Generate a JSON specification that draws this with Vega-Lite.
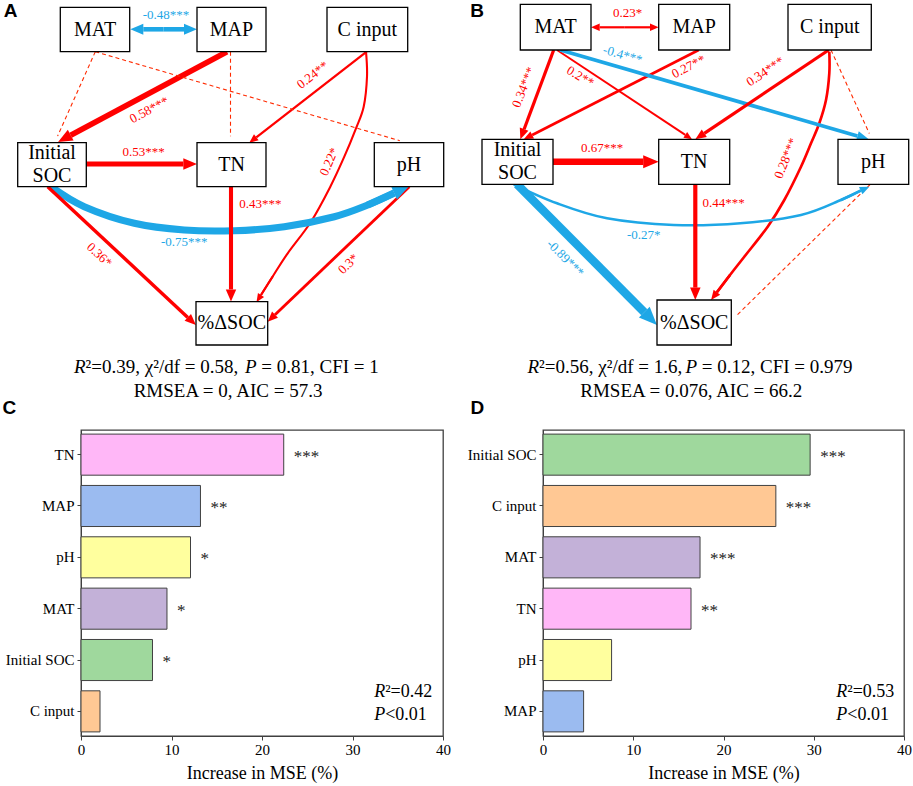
{
"$schema": "https://vega.github.io/schema/vega-lite/v6.json",
"padding": 0,
"background": "white",
"config": {"font": "Liberation Serif", "view": {"stroke": null}},
"spacing": 10,
"datasets": {
"nodes": [
{"panel":"A","label":"MAT","x1":59.3,"x2":128.7,"y1":7.3,"y2":51.7,"tx":94,"ty":29.5},
{"panel":"A","label":"MAP","x1":196,"x2":265,"y1":7.3,"y2":51.7,"tx":230.5,"ty":29.5},
{"panel":"A","label":"C input","x1":326,"x2":406.7,"y1":7.3,"y2":51.7,"tx":366.3,"ty":29.5},
{"panel":"A","label":"Initial\nSOC","x1":16.7,"x2":85.3,"y1":142.7,"y2":186.7,"tx":51,"ty":153.2},
{"panel":"A","label":"TN","x1":196,"x2":265,"y1":142.7,"y2":186.7,"tx":230.5,"ty":164.7},
{"panel":"A","label":"pH","x1":373.3,"x2":442.7,"y1":142.7,"y2":186.7,"tx":408,"ty":164.7},
{"panel":"A","label":"%ΔSOC","x1":195,"x2":266.7,"y1":301.7,"y2":345,"tx":230.8,"ty":323.3},
{"panel":"B","label":"MAT","x1":519.3,"x2":590,"y1":4.3,"y2":50,"tx":554.7,"ty":27.2},
{"panel":"B","label":"MAP","x1":657.7,"x2":728.7,"y1":4.3,"y2":50,"tx":693.2,"ty":27.2},
{"panel":"B","label":"C input","x1":787,"x2":870.3,"y1":4.3,"y2":50,"tx":828.7,"ty":27.2},
{"panel":"B","label":"Initial\nSOC","x1":481,"x2":552,"y1":139.3,"y2":184.3,"tx":516.5,"ty":150.3},
{"panel":"B","label":"TN","x1":657.7,"x2":728.7,"y1":139.3,"y2":184.3,"tx":693.2,"ty":161.8},
{"panel":"B","label":"pH","x1":837,"x2":907.7,"y1":139.3,"y2":184.3,"tx":872.3,"ty":161.8},
{"panel":"B","label":"%ΔSOC","x1":656,"x2":730.3,"y1":300,"y2":345,"tx":693.2,"ty":322.5}
],
"edges": [
{"panel":"A","from":"MAT","to":"MAP","est":-0.48,"x":162.6,"y":29.3,"x2":142.3,"y2":29.3},
{"panel":"A","from":"MAP","to":"MAT","est":-0.48,"x":162.6,"y":29.3,"x2":183,"y2":29.3},
{"panel":"A","from":"MAT","to":"Initial SOC","est":null,"x":94.3,"y":51.7,"x2":56.6,"y2":136.1},
{"panel":"A","from":"MAP","to":"Initial SOC","est":0.58,"x":226,"y":51.7,"x2":69.7,"y2":135.2},
{"panel":"A","from":"MAP","to":"TN","est":null,"x":229.5,"y":51.7,"x2":229.5,"y2":136.2},
{"panel":"A","from":"MAT","to":"pH","est":null,"x":94.3,"y":51.7,"x2":398.8,"y2":140.7},
{"panel":"A","from":"C input","to":"TN","est":0.24,"x":365.7,"y":51.7,"x2":255.3,"y2":137.3},
{"panel":"A","from":"Initial SOC","to":"TN","est":0.53,"x":85.3,"y":164,"x2":182.3,"y2":164},
{"panel":"A","from":"Initial SOC","to":"%ΔSOC","est":0.36,"x":46.7,"y":186.7,"x2":186.8,"y2":317.4},
{"panel":"A","from":"TN","to":"%ΔSOC","est":0.43,"x":230,"y":186.7,"x2":230,"y2":289.4},
{"panel":"A","from":"pH","to":"%ΔSOC","est":0.3,"x":408.3,"y":186.7,"x2":274,"y2":314.7},
{"panel":"A","from":"C input","to":"%ΔSOC","est":0.22,"x":272,"y":276,"x2":260,"y2":295},
{"panel":"A","from":"Initial SOC","to":"pH","est":-0.75,"x":366.7,"y":205,"x2":393.1,"y2":193.1},
{"panel":"B","from":"MAT","to":"MAP","est":0.23,"x":623.8,"y":27.3,"x2":598.7,"y2":27.3},
{"panel":"B","from":"MAP","to":"MAT","est":0.23,"x":623.8,"y":27.3,"x2":649,"y2":27.3},
{"panel":"B","from":"MAT","to":"Initial SOC","est":0.34,"x":552.7,"y":50,"x2":523.1,"y2":129.2},
{"panel":"B","from":"MAT","to":"TN","est":0.2,"x":556,"y":50,"x2":684.3,"y2":134.9},
{"panel":"B","from":"MAP","to":"Initial SOC","est":0.27,"x":697.7,"y":50,"x2":531.2,"y2":135},
{"panel":"B","from":"MAT","to":"pH","est":-0.4,"x":559.3,"y":50,"x2":856.4,"y2":136},
{"panel":"B","from":"C input","to":"pH","est":null,"x":830,"y":50,"x2":868.3,"y2":133.4},
{"panel":"B","from":"C input","to":"TN","est":0.34,"x":827.7,"y":50,"x2":703.3,"y2":133.3},
{"panel":"B","from":"Initial SOC","to":"TN","est":0.67,"x":552,"y":161.7,"x2":642.2,"y2":161.7},
{"panel":"B","from":"Initial SOC","to":"%ΔSOC","est":-0.89,"x":516,"y":184.3,"x2":643.3,"y2":312.2},
{"panel":"B","from":"TN","to":"%ΔSOC","est":0.44,"x":694.3,"y":184.3,"x2":694.3,"y2":287.6},
{"panel":"B","from":"pH","to":"%ΔSOC","est":null,"x":869.3,"y":184.3,"x2":735.6,"y2":315.5},
{"panel":"B","from":"C input","to":"%ΔSOC","est":0.28,"x":729,"y":275,"x2":715.9,"y2":292.3},
{"panel":"B","from":"Initial SOC","to":"pH","est":-0.27,"x":840,"y":200,"x2":859.7,"y2":190.7}
],
"curves": [
{"id":"A1","i":0,"est":0.22,"x":365,"y":51.7},
{"id":"A1","i":1,"est":0.22,"x":366,"y":76.7},
{"id":"A1","i":2,"est":0.22,"x":362.7,"y":106.7},
{"id":"A1","i":3,"est":0.22,"x":355,"y":128.3},
{"id":"A1","i":4,"est":0.22,"x":343.3,"y":156.7},
{"id":"A1","i":5,"est":0.22,"x":329.3,"y":186.7},
{"id":"A1","i":6,"est":0.22,"x":310,"y":221.7},
{"id":"A1","i":7,"est":0.22,"x":286.7,"y":253.3},
{"id":"A1","i":8,"est":0.22,"x":272,"y":276},
{"id":"A1","i":9,"est":0.22,"x":260,"y":295},
{"id":"A2","i":0,"est":-0.75,"x":50,"y":186.7},
{"id":"A2","i":1,"est":-0.75,"x":83.3,"y":206.7},
{"id":"A2","i":2,"est":-0.75,"x":133.3,"y":223.3},
{"id":"A2","i":3,"est":-0.75,"x":183.3,"y":230},
{"id":"A2","i":4,"est":-0.75,"x":233.3,"y":230.7},
{"id":"A2","i":5,"est":-0.75,"x":283.3,"y":226.7},
{"id":"A2","i":6,"est":-0.75,"x":333.3,"y":216.7},
{"id":"A2","i":7,"est":-0.75,"x":366.7,"y":205},
{"id":"A2","i":8,"est":-0.75,"x":393.1,"y":193.1},
{"id":"B1","i":0,"est":0.28,"x":828.3,"y":51.7},
{"id":"B1","i":1,"est":0.28,"x":828.3,"y":73.3},
{"id":"B1","i":2,"est":0.28,"x":825,"y":100},
{"id":"B1","i":3,"est":0.28,"x":818.3,"y":123.3},
{"id":"B1","i":4,"est":0.28,"x":810,"y":143.3},
{"id":"B1","i":5,"est":0.28,"x":800,"y":166.7},
{"id":"B1","i":6,"est":0.28,"x":783.3,"y":200},
{"id":"B1","i":7,"est":0.28,"x":766.7,"y":226.7},
{"id":"B1","i":8,"est":0.28,"x":743.3,"y":256.7},
{"id":"B1","i":9,"est":0.28,"x":729,"y":275},
{"id":"B1","i":10,"est":0.28,"x":715.9,"y":292.3},
{"id":"B2","i":0,"est":-0.27,"x":512.7,"y":184.3},
{"id":"B2","i":1,"est":-0.27,"x":556,"y":203.3},
{"id":"B2","i":2,"est":-0.27,"x":606,"y":218.3},
{"id":"B2","i":3,"est":-0.27,"x":672.7,"y":225},
{"id":"B2","i":4,"est":-0.27,"x":739.3,"y":223.3},
{"id":"B2","i":5,"est":-0.27,"x":800,"y":215},
{"id":"B2","i":6,"est":-0.27,"x":840,"y":200},
{"id":"B2","i":7,"est":-0.27,"x":859.7,"y":190.7}
],
"elabels": [
{"panel":"A","text":"-0.48***","est":-0.48,"x":165,"y":15,"rot":0},
{"panel":"A","text":"0.58***","est":0.58,"x":148.3,"y":110,"rot":-28},
{"panel":"A","text":"0.24**","est":0.24,"x":311.7,"y":75,"rot":-38},
{"panel":"A","text":"0.22*","est":0.22,"x":328.3,"y":161.7,"rot":-66},
{"panel":"A","text":"0.53***","est":0.53,"x":142.7,"y":151.7,"rot":0},
{"panel":"A","text":"0.43***","est":0.43,"x":259.3,"y":204,"rot":0},
{"panel":"A","text":"-0.75***","est":-0.75,"x":183.3,"y":241.7,"rot":0},
{"panel":"A","text":"0.36*","est":0.36,"x":98.3,"y":255,"rot":43},
{"panel":"A","text":"0.3*","est":0.3,"x":347.3,"y":264,"rot":-44},
{"panel":"B","text":"0.23*","est":0.23,"x":626.7,"y":13.3,"rot":0},
{"panel":"B","text":"0.34***","est":0.34,"x":522.7,"y":87.3,"rot":-68},
{"panel":"B","text":"0.2**","est":0.2,"x":579.3,"y":76.7,"rot":30},
{"panel":"B","text":"0.27**","est":0.27,"x":687.7,"y":66.7,"rot":-27},
{"panel":"B","text":"-0.4***","est":-0.4,"x":621.7,"y":55,"rot":16},
{"panel":"B","text":"0.34***","est":0.34,"x":764.3,"y":71.7,"rot":-34},
{"panel":"B","text":"0.28***","est":0.28,"x":785,"y":158.3,"rot":-68},
{"panel":"B","text":"0.67***","est":0.67,"x":601,"y":147.7,"rot":0},
{"panel":"B","text":"-0.27*","est":-0.27,"x":642.7,"y":235,"rot":0},
{"panel":"B","text":"-0.89***","est":-0.89,"x":564.3,"y":258.3,"rot":45},
{"panel":"B","text":"0.44***","est":0.44,"x":722.7,"y":203.3,"rot":0}
],
"stats": [
{"panel":"A","text":"R","italic":true,"x":73,"y":366.7},
{"panel":"A","text":"²=0.39, χ²/df = 0.58,","italic":false,"x":84.6,"y":366.7},
{"panel":"A","text":"P","italic":true,"x":244,"y":366.7},
{"panel":"A","text":"= 0.81, CFI = 1","italic":false,"x":260.3,"y":366.7},
{"panel":"A","text":"RMSEA = 0, AIC = 57.3","italic":false,"x":132.7,"y":391},
{"panel":"B","text":"R","italic":true,"x":526.5,"y":366.7},
{"panel":"B","text":"²=0.56, χ²/df = 1.6,","italic":false,"x":538.1,"y":366.7},
{"panel":"B","text":"P","italic":true,"x":684.5,"y":366.7},
{"panel":"B","text":"= 0.12, CFI = 0.979","italic":false,"x":700.8,"y":366.7},
{"panel":"B","text":"RMSEA = 0.076, AIC = 66.2","italic":false,"x":579.3,"y":391}
],
"letters": [
{"letter":"A","x":9.7,"y":10.7},
{"letter":"B","x":476,"y":10.7},
{"letter":"C","x":8.3,"y":408.3},
{"letter":"D","x":476.3,"y":408}
],
"impC": [
{"var":"TN","mse":22.4,"sig":"***"},
{"var":"MAP","mse":13.2,"sig":"**"},
{"var":"pH","mse":12.1,"sig":"*"},
{"var":"MAT","mse":9.5,"sig":"*"},
{"var":"Initial SOC","mse":7.9,"sig":"*"},
{"var":"C input","mse":2.1,"sig":""}
],
"impD": [
{"var":"Initial SOC","mse":29.6,"sig":"***"},
{"var":"C input","mse":25.8,"sig":"***"},
{"var":"MAT","mse":17.4,"sig":"***"},
{"var":"TN","mse":16.4,"sig":"**"},
{"var":"pH","mse":7.6,"sig":""},
{"var":"MAP","mse":4.5,"sig":""}
]
},
"vconcat": [
{
"width": 833, "height": 418,
"layer": [
{"data": {"name": "curves"},
 "mark": {"type": "line", "interpolate": "cardinal", "strokeCap": "butt"},
 "encoding": {
  "x": {"field": "x", "type": "quantitative", "scale": {"domain": [80, 913], "nice": false, "zero": false}, "axis": null},
  "y": {"field": "y", "type": "quantitative", "scale": {"domain": [0, 418], "nice": false, "zero": false, "reverse": true}, "axis": null},
  "detail": {"field": "id"},
  "order": {"field": "i", "type": "quantitative"},
  "strokeWidth": {"field": "est", "type": "quantitative", "scale": {"domain": [-1, 0, 1], "range": [9.5, 0, 9.5]}, "legend": null},
  "color": {"condition": {"test": "datum.est < 0", "value": "#1ea7e6"}, "value": "#ff0000"}
 }},
{"data": {"name": "edges"},
 "transform": [{"filter": "datum.est != null"}],
 "mark": {"type": "rule"},
 "encoding": {
  "x": {"field": "x", "type": "quantitative"},
  "y": {"field": "y", "type": "quantitative"},
  "x2": {"field": "x2"},
  "y2": {"field": "y2"},
  "strokeWidth": {"field": "est", "type": "quantitative", "legend": null},
  "color": {"condition": {"test": "datum.est < 0", "value": "#1ea7e6"}, "value": "#ff0000"}
 }},
{"data": {"name": "edges"},
 "transform": [{"filter": "datum.est == null"}],
 "mark": {"type": "rule", "strokeDash": [4, 3], "strokeWidth": 1.1, "color": "#ff2a00"},
 "encoding": {
  "x": {"field": "x", "type": "quantitative"},
  "y": {"field": "y", "type": "quantitative"},
  "x2": {"field": "x2"},
  "y2": {"field": "y2"}
 }},
{"data": {"name": "edges"},
 "transform": [{"calculate": "atan2(datum.x2 - datum.x, datum.y - datum.y2) * 180 / PI", "as": "ang"}],
 "mark": {"type": "point", "shape": "M0,-2L-0.85,0L0.85,0Z", "filled": true, "opacity": 1, "strokeWidth": 0},
 "encoding": {
  "x": {"field": "x2", "type": "quantitative"},
  "y": {"field": "y2", "type": "quantitative"},
  "angle": {"field": "ang", "type": "quantitative", "scale": null},
  "size": {"condition": {"test": "datum.est == null", "value": 42}, "field": "est", "type": "quantitative", "scale": {"domain": [-0.9, -0.2, 0.2, 0.9], "range": [324, 64, 64, 324]}, "legend": null},
  "color": {"condition": {"test": "datum.est < 0", "value": "#1ea7e6"}, "value": "#ff0000"}
 }},
{"data": {"name": "nodes"},
 "mark": {"type": "rect", "fill": "white", "stroke": "black", "strokeWidth": 1.3},
 "encoding": {
  "x": {"field": "x1", "type": "quantitative"},
  "x2": {"field": "x2"},
  "y": {"field": "y1", "type": "quantitative"},
  "y2": {"field": "y2"}
 }},
{"data": {"name": "nodes"},
 "mark": {"type": "text", "fontSize": 20, "lineBreak": "\n", "lineHeight": 23, "align": "center", "baseline": "middle", "color": "black"},
 "encoding": {
  "x": {"field": "tx", "type": "quantitative"},
  "y": {"field": "ty", "type": "quantitative"},
  "text": {"field": "label"}
 }},
{"data": {"name": "elabels"},
 "mark": {"type": "text", "fontSize": 13, "align": "center", "baseline": "middle"},
 "encoding": {
  "x": {"field": "x", "type": "quantitative"},
  "y": {"field": "y", "type": "quantitative"},
  "text": {"field": "text"},
  "angle": {"field": "rot", "type": "quantitative", "scale": null},
  "color": {"condition": {"test": "datum.est < 0", "value": "#1ea7e6"}, "value": "#ff0000"}
 }},
{"data": {"name": "stats"},
 "transform": [{"filter": "datum.italic"}],
 "mark": {"type": "text", "fontSize": 19, "fontStyle": "italic", "align": "left", "baseline": "middle", "color": "black"},
 "encoding": {
  "x": {"field": "x", "type": "quantitative"},
  "y": {"field": "y", "type": "quantitative"},
  "text": {"field": "text"}
 }},
{"data": {"name": "stats"},
 "transform": [{"filter": "!datum.italic"}],
 "mark": {"type": "text", "fontSize": 19, "align": "left", "baseline": "middle", "color": "black"},
 "encoding": {
  "x": {"field": "x", "type": "quantitative"},
  "y": {"field": "y", "type": "quantitative"},
  "text": {"field": "text"}
 }},
{"data": {"name": "letters"},
 "mark": {"type": "text", "font": "Liberation Sans", "fontWeight": "bold", "fontSize": 19, "align": "center", "baseline": "middle", "color": "black"},
 "encoding": {
  "x": {"field": "x", "type": "quantitative"},
  "y": {"field": "y", "type": "quantitative"},
  "text": {"field": "letter"}
 }}
]
},
{
"hconcat": [
{
"width": 362, "height": 306,
"view": {"stroke": "#404040", "strokeWidth": 1.3},
"data": {"name": "impC"},
"encoding": {
 "y": {"field": "var", "type": "nominal", "sort": null, "scale": {"paddingInner": 0.2, "paddingOuter": 0.08},
   "axis": {"title": null, "tickSize": 4, "labelFontSize": 15, "labelColor": "black", "labelPadding": 3, "minExtent": 80, "maxExtent": 80, "domainColor": "#404040", "tickColor": "#404040"}},
 "x": {"field": "mse", "type": "quantitative", "scale": {"domain": [0, 40], "nice": false},
   "axis": {"values": [0, 10, 20, 30, 40], "grid": false, "tickSize": 4, "labelFontSize": 15, "labelColor": "black", "labelPadding": 2, "labelFlush": false, "domainColor": "#404040", "tickColor": "#404040", "title": "Increase in MSE (%)", "titleFontSize": 18, "titleFontWeight": "normal", "titleColor": "black", "titlePadding": 7}}
},
"layer": [
 {"mark": {"type": "bar", "stroke": "#404040", "strokeWidth": 1},
  "encoding": {"color": {"field": "var", "type": "nominal", "scale": {"domain": ["TN", "MAP", "pH", "MAT", "Initial SOC", "C input"], "range": ["#ffb7f7", "#9bbbf0", "#ffff9e", "#c3b1d8", "#9fd89d", "#ffc894"]}, "legend": null}}},
 {"mark": {"type": "text", "align": "left", "baseline": "middle", "dx": 10, "dy": 2, "fontSize": 17, "color": "#222222"},
  "encoding": {"text": {"field": "sig"}}},
 {"transform": [{"filter": "datum.var === 'C input'"}],
  "mark": {"type": "text", "align": "left", "baseline": "middle", "fontSize": 18, "fontStyle": "italic", "dy": -19, "color": "black"},
  "encoding": {"x": {"datum": 32.4}, "text": {"value": "R"}}},
 {"transform": [{"filter": "datum.var === 'C input'"}],
  "mark": {"type": "text", "align": "left", "baseline": "middle", "fontSize": 18, "dx": 11, "dy": -19, "color": "black"},
  "encoding": {"x": {"datum": 32.4}, "text": {"value": "²=0.42"}}},
 {"transform": [{"filter": "datum.var === 'C input'"}],
  "mark": {"type": "text", "align": "left", "baseline": "middle", "fontSize": 18, "fontStyle": "italic", "dy": 4, "color": "black"},
  "encoding": {"x": {"datum": 32.4}, "text": {"value": "P"}}},
 {"transform": [{"filter": "datum.var === 'C input'"}],
  "mark": {"type": "text", "align": "left", "baseline": "middle", "fontSize": 18, "dx": 11, "dy": 4, "color": "black"},
  "encoding": {"x": {"datum": 32.4}, "text": {"value": "<0.01"}}}
]
},
{
"width": 361, "height": 306,
"view": {"stroke": "#404040", "strokeWidth": 1.3},
"data": {"name": "impD"},
"encoding": {
 "y": {"field": "var", "type": "nominal", "sort": null, "scale": {"paddingInner": 0.2, "paddingOuter": 0.08},
   "axis": {"title": null, "tickSize": 4, "labelFontSize": 15, "labelColor": "black", "labelPadding": 3, "minExtent": 80, "maxExtent": 80, "domainColor": "#404040", "tickColor": "#404040"}},
 "x": {"field": "mse", "type": "quantitative", "scale": {"domain": [0, 40], "nice": false},
   "axis": {"values": [0, 10, 20, 30, 40], "grid": false, "tickSize": 4, "labelFontSize": 15, "labelColor": "black", "labelPadding": 2, "labelFlush": false, "domainColor": "#404040", "tickColor": "#404040", "title": "Increase in MSE (%)", "titleFontSize": 18, "titleFontWeight": "normal", "titleColor": "black", "titlePadding": 7}}
},
"layer": [
 {"mark": {"type": "bar", "stroke": "#404040", "strokeWidth": 1},
  "encoding": {"color": {"field": "var", "type": "nominal", "scale": {"domain": ["TN", "MAP", "pH", "MAT", "Initial SOC", "C input"], "range": ["#ffb7f7", "#9bbbf0", "#ffff9e", "#c3b1d8", "#9fd89d", "#ffc894"]}, "legend": null}}},
 {"mark": {"type": "text", "align": "left", "baseline": "middle", "dx": 10, "dy": 2, "fontSize": 17, "color": "#222222"},
  "encoding": {"text": {"field": "sig"}}},
 {"transform": [{"filter": "datum.var === 'MAP'"}],
  "mark": {"type": "text", "align": "left", "baseline": "middle", "fontSize": 18, "fontStyle": "italic", "dy": -19, "color": "black"},
  "encoding": {"x": {"datum": 32.5}, "text": {"value": "R"}}},
 {"transform": [{"filter": "datum.var === 'MAP'"}],
  "mark": {"type": "text", "align": "left", "baseline": "middle", "fontSize": 18, "dx": 11, "dy": -19, "color": "black"},
  "encoding": {"x": {"datum": 32.5}, "text": {"value": "²=0.53"}}},
 {"transform": [{"filter": "datum.var === 'MAP'"}],
  "mark": {"type": "text", "align": "left", "baseline": "middle", "fontSize": 18, "fontStyle": "italic", "dy": 4, "color": "black"},
  "encoding": {"x": {"datum": 32.5}, "text": {"value": "P"}}},
 {"transform": [{"filter": "datum.var === 'MAP'"}],
  "mark": {"type": "text", "align": "left", "baseline": "middle", "fontSize": 18, "dx": 11, "dy": 4, "color": "black"},
  "encoding": {"x": {"datum": 32.5}, "text": {"value": "<0.01"}}}
]
}
],
"spacing": 100,
"bounds": "flush"
}
]
}
